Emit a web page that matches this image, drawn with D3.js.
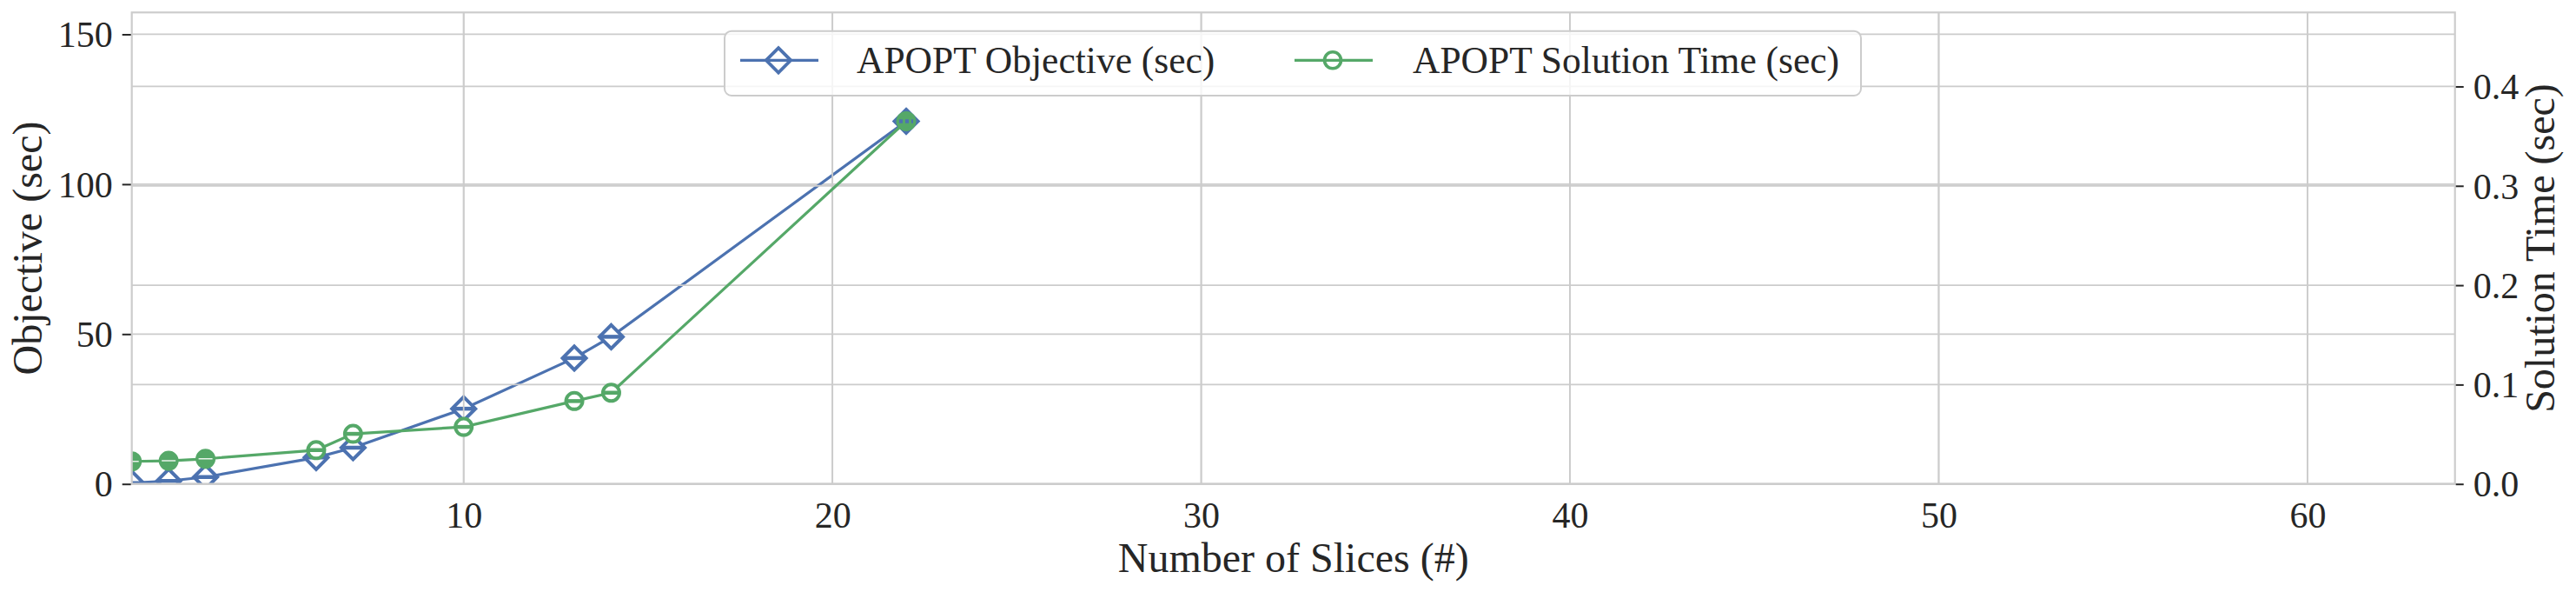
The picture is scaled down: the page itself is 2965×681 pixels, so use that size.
<!DOCTYPE html>
<html>
<head>
<meta charset="utf-8">
<script src="https://cdn.jsdelivr.net/npm/d3@7"></script>
<style>
  html, body { margin: 0; padding: 0; background: #ffffff; }
  svg { display: block; }
  text { font-family: "Liberation Serif", "Times New Roman", "DejaVu Serif", serif; fill: #262626; }
</style>
</head>
<body>
<svg id="chart" width="2965" height="681"></svg>
<script>
// ---- data ----
const slices = [1, 2, 3, 6, 7, 10, 13, 14, 22];
const objective = [0.3, 1.0, 2.3, 8.8, 12.1, 25.1, 42.0, 49.1, 121.0];
const solutionTime = [0.0227, 0.0233, 0.0253, 0.034, 0.0504, 0.0574, 0.0834, 0.0918, 0.365];
const xTicks = [10, 20, 30, 40, 50, 60];
const yLeftTicks = [0, 50, 100, 150];
const yRightTicks = [0.0, 0.1, 0.2, 0.3, 0.4];
const seriesNames = ["APOPT Objective (sec)", "APOPT Solution Time (sec)"];
const xLabel = "Number of Slices (#)";
const yLeftLabel = "Objective (sec)";
const yRightLabel = "Solution Time (sec)";

// ---- layout ----
const W = 2965, H = 681;
const P = { l: 151.7, r: 2825.7, t: 14.3, b: 556.7 };
const BLUE = "#4c72b0", GREEN = "#55a868", GRID = "#cccccc", INK = "#262626";

const svg = d3.select("#chart");

const x = d3.scaleLinear().domain([1, 64]).range([P.l, P.r]);
const yL = d3.scaleLinear().domain([0, d3.max(objective) * 1.3]).range([P.b, P.t]);
const yR = d3.scaleLinear().domain([0, d3.max(solutionTime) * 1.3]).range([P.b, P.t]);

svg.append("defs").append("clipPath").attr("id", "plotclip")
  .append("rect").attr("x", P.l).attr("y", P.t).attr("width", P.r - P.l).attr("height", P.b - P.t);

function drawGrid(yScale, yTicks) {
  const g = svg.append("g");
  g.selectAll("line.h").data(yTicks).enter().append("line")
    .attr("x1", P.l).attr("x2", P.r)
    .attr("y1", d => yScale(d)).attr("y2", d => yScale(d))
    .attr("stroke", GRID).attr("stroke-width", 1.8);
  g.selectAll("line.v").data(xTicks).enter().append("line")
    .attr("y1", P.t).attr("y2", P.b)
    .attr("x1", d => x(d)).attr("x2", d => x(d))
    .attr("stroke", GRID).attr("stroke-width", 1.8);
}

const diamond = "M0,-13.5L13.5,0L0,13.5L-13.5,0Z";

// ---- primary axes content ----
drawGrid(yL, yLeftTicks);

const objData = slices.map((s, i) => ({ x: s, y: objective[i] }));
const timeData = slices.map((s, i) => ({ x: s, y: solutionTime[i] }));

const g1 = svg.append("g").attr("clip-path", "url(#plotclip)");
g1.append("path").datum(objData)
  .attr("d", d3.line().x(d => x(d.x)).y(d => yL(d.y)))
  .attr("fill", "none").attr("stroke", BLUE).attr("stroke-width", 3.2);
const bm = g1.selectAll("g.bm").data(objData).enter().append("g")
  .attr("transform", d => `translate(${x(d.x)},${yL(d.y)})`);
bm.append("path").attr("d", diamond).attr("fill", "#ffffff")
  .attr("stroke", BLUE).attr("stroke-width", 4);
bm.append("line").attr("x1", -12).attr("x2", 12).attr("y1", 0).attr("y2", 0)
  .attr("stroke", BLUE).attr("stroke-width", 4.5);

// ---- secondary axes content ----
drawGrid(yR, yRightTicks);

const g2 = svg.append("g").attr("clip-path", "url(#plotclip)");
g2.append("path").datum(timeData)
  .attr("d", d3.line().x(d => x(d.x)).y(d => yR(d.y)))
  .attr("fill", "none").attr("stroke", GREEN).attr("stroke-width", 3.2);
const gm = g2.selectAll("g.gm").data(timeData).enter().append("g")
  .attr("transform", d => `translate(${x(d.x)},${yR(d.y)})`);
gm.append("circle").attr("r", 9.5)
  .attr("fill", (d, i) => (i < 3 || i === timeData.length - 1) ? GREEN : "#ffffff")
  .attr("stroke", GREEN).attr("stroke-width", 4);
gm.append("line").attr("x1", -8).attr("x2", 8).attr("y1", 0).attr("y2", 0)
  .attr("stroke", (d, i) => i === timeData.length - 1 ? BLUE : (i < 3 ? "#e8f3ea" : GREEN))
  .attr("stroke-width", (d, i) => i < 3 ? 1.5 : 4.5)
  .attr("stroke-dasharray", (d, i) => i === timeData.length - 1 ? "4,3" : null);

// ---- spines ----
svg.append("rect").attr("x", P.l).attr("y", P.t)
  .attr("width", P.r - P.l).attr("height", P.b - P.t)
  .attr("fill", "none").attr("stroke", GRID).attr("stroke-width", 2.2);

// ---- axes ----
function styleAxis(g) {
  g.select(".domain").remove();
  g.selectAll(".tick line").attr("stroke", INK).attr("stroke-width", 2);
  g.selectAll(".tick text").attr("font-size", 42)
    .attr("font-family", '"Liberation Serif", "Times New Roman", serif').attr("fill", INK);
}

svg.append("g").attr("transform", `translate(${P.l - 1},0)`)
  .call(d3.axisLeft(yL).tickValues(yLeftTicks).tickSize(10).tickPadding(11).tickFormat(d3.format("d")))
  .call(styleAxis)
  .selectAll(".tick text").attr("dy", "0.34em");

svg.append("g").attr("transform", `translate(${P.r + 1},0)`)
  .call(d3.axisRight(yR).tickValues(yRightTicks).tickSize(9).tickPadding(11).tickFormat(d3.format(".1f")))
  .call(styleAxis)
  .selectAll(".tick text").attr("dy", "0.34em");

svg.append("g").attr("transform", `translate(0,${P.b})`)
  .call(d3.axisBottom(x).tickValues(xTicks).tickSize(0).tickPadding(20.5).tickFormat(d3.format("d")))
  .call(styleAxis);

// ---- axis labels ----
svg.append("text").attr("x", (P.l + P.r) / 2).attr("y", 658)
  .attr("text-anchor", "middle").attr("font-size", 48).text(xLabel);
svg.append("text").attr("transform", `translate(48,${(P.t + P.b) / 2}) rotate(-90)`)
  .attr("text-anchor", "middle").attr("font-size", 48).text(yLeftLabel);
svg.append("text").attr("transform", `translate(2940,${(P.t + P.b) / 2}) rotate(-90)`)
  .attr("text-anchor", "middle").attr("font-size", 48).text(yRightLabel);

// ---- legend ----
const leg = svg.append("g");
leg.append("rect").attr("x", 834).attr("y", 35.7).attr("width", 1308).attr("height", 74.3)
  .attr("rx", 8).attr("ry", 8)
  .attr("fill", "#ffffff").attr("fill-opacity", 0.8)
  .attr("stroke", "#cccccc").attr("stroke-width", 2);

const legendItems = [
  { name: seriesNames[0], color: BLUE, kind: "diamond", x0: 852, tx: 986 },
  { name: seriesNames[1], color: GREEN, kind: "circle", x0: 1490, tx: 1626 }
];
const ly = 69.3;
legendItems.forEach(it => {
  leg.append("line").attr("x1", it.x0).attr("x2", it.x0 + 90).attr("y1", ly).attr("y2", ly)
    .attr("stroke", it.color).attr("stroke-width", 3.2);
  if (it.kind === "diamond") {
    leg.append("path").attr("transform", `translate(${it.x0 + 44},${ly}) scale(1.05)`)
      .attr("d", diamond).attr("fill", "none").attr("stroke", it.color).attr("stroke-width", 3.6);
  } else {
    leg.append("circle").attr("cx", it.x0 + 44).attr("cy", ly).attr("r", 9.5)
      .attr("fill", "none").attr("stroke", it.color).attr("stroke-width", 3.6);
  }
  leg.append("text").attr("x", it.tx).attr("y", 84.3).attr("font-size", 43.5).text(it.name);
});
</script>
</body>
</html>
